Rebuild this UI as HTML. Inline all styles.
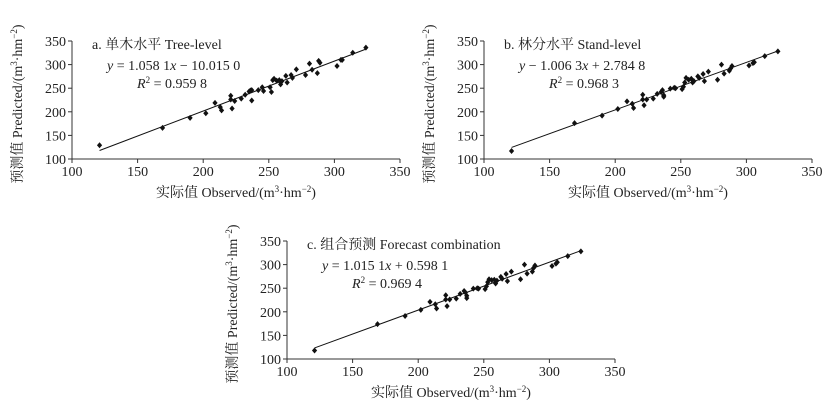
<!DOCTYPE html>
<html><head><meta charset="utf-8"><style>
body{margin:0;background:#fff;}
svg text{font-family:"Liberation Serif","Noto Serif CJK SC",serif;fill:#222;}
</style></head><body>
<svg id="s" width="840" height="410" viewBox="0 0 840 410" xmlns="http://www.w3.org/2000/svg"></svg>
<script>
const observed=[121,169,190,202,209,213,214,221,221,222,224,229,232,235,236,237,237,242,245,246,251,252,253,254,256,258,259,260,263,264,267,268,271,278,281,283,287,288,289,302,305,306,314,324];
const predA=[129,166,187,197,219,210,203,234,226,207,223,228,236,243,245,246,224,246,252,244,252,242,267,270,266,267,258,265,276,262,278,272,290,278,302,289,282,308,304,297,310,310,325,336];
const predB=[117,176,192,206,222,217,208,236,226,214,226,228,238,242,246,235,232,249,251,250,248,253,262,272,268,270,262,265,275,272,280,265,285,268,300,281,287,292,297,298,303,305,318,328];
const predC=[118,174,191,204,221,216,207,235,226,212,226,228,238,244,241,234,229,249,250,249,248,254,263,269,267,268,260,266,274,270,280,265,285,269,300,281,285,293,298,297,302,305,318,328];
const xTicks=[100,150,200,250,300,350];
const yTicks=[100,150,200,250,300,350];
const slopes=[1.0581,1.0063,1.0151];
const intercepts=[-10.015,2.7848,0.5981];
const titles=["a. 单木水平 Tree-level","b. 林分水平 Stand-level","c. 组合预测 Forecast combination"];
const eqs=["y = 1.058 1x − 10.015 0","y − 1.006 3x + 2.784 8","y = 1.015 1x + 0.598 1"];
const r2s=["0.959 8","0.968 3","0.969 4"];
const NS="http://www.w3.org/2000/svg";
const svg=document.getElementById('s');
function mk(tag,attrs,parent){const e=document.createElementNS(NS,tag);for(const k in attrs)e.setAttribute(k,attrs[k]);(parent||svg).appendChild(e);return e;}
const panels=[{x0:72,y0:159,data:predA},{x0:484,y0:159,data:predB},{x0:287,y0:359,data:predC}];
panels.forEach((p,i)=>{
  const g=mk('g',{});
  
  
  const W=328,H=118;
  const sx=v=>p.x0+(v-100)/250*W;
  const sy=v=>p.y0-(v-100)/250*H;
  const ax=mk('path',{d:`M${p.x0},${p.y0-H} V${p.y0} H${p.x0+W}`,stroke:'#333',fill:'none','stroke-width':1},g);
  
  
  xTicks.forEach(t=>{
    mk('line',{x1:sx(t),x2:sx(t),y1:p.y0,y2:p.y0+4,stroke:'#333'},g);
    const tx=mk('text',{x:sx(t),y:p.y0+17,'text-anchor':'middle','font-size':14},g);
    tx.textContent=t;
    
    
  });
  yTicks.forEach(t=>{
    mk('line',{x1:p.x0-4,x2:p.x0,y1:sy(t),y2:sy(t),stroke:'#333'},g);
    const tx=mk('text',{x:p.x0-6,y:sy(t)+5,'text-anchor':'end','font-size':14},g);
    tx.textContent=t;
    
    
  });
  const xt=mk('text',{x:p.x0+164,y:p.y0+38,'text-anchor':'middle','font-size':14},g);
  xt.innerHTML='实际值 Observed/(m<tspan dy="-5" font-size="9">3</tspan><tspan dy="5">·hm</tspan><tspan dy="-5" font-size="9">−2</tspan><tspan dy="5">)</tspan>';
  
  
  const yt=mk('text',{transform:`translate(${p.x0-50},${p.y0-H/2+4}) rotate(-90)`,'text-anchor':'middle','font-size':14},g);
  yt.innerHTML='预测值 Predicted/(m<tspan dy="-5" font-size="9">3</tspan><tspan dy="5">·hm</tspan><tspan dy="-5" font-size="9">−2</tspan><tspan dy="5">)</tspan>';
  
  
  const ln=mk('line',{x1:sx(121),y1:sy(slopes[i]*121+intercepts[i]),x2:sx(324),y2:sy(slopes[i]*324+intercepts[i]),stroke:'#111','stroke-width':1},g);
  
  
  observed.forEach((o,j)=>{
    const cx=sx(o),cy=sy(p.data[j]);
    const d=mk('path',{d:`M${cx},${cy-3} L${cx+2.6},${cy} L${cx},${cy+3} L${cx-2.6},${cy}Z`,fill:'#111'},g);
    
    
  });
  const tt=mk('text',{x:p.x0+20,y:p.y0-H+8,'font-size':14},g);
  tt.textContent=titles[i];
  
  
  const eq=mk('text',{x:p.x0+35,y:p.y0-H+29,'font-size':14},g);
  eq.innerHTML=eqs[i].replace('y ','<tspan font-style="italic">y</tspan> ').replace('x ','<tspan font-style="italic">x</tspan> ');
  
  
  const r=mk('text',{x:p.x0+65,y:p.y0-H+47,'font-size':14},g);
  r.innerHTML='<tspan font-style="italic">R</tspan><tspan dy="-5" font-size="9">2</tspan><tspan dy="5"> = '+r2s[i]+'</tspan>';
  
  
});
</script>
</body></html>
